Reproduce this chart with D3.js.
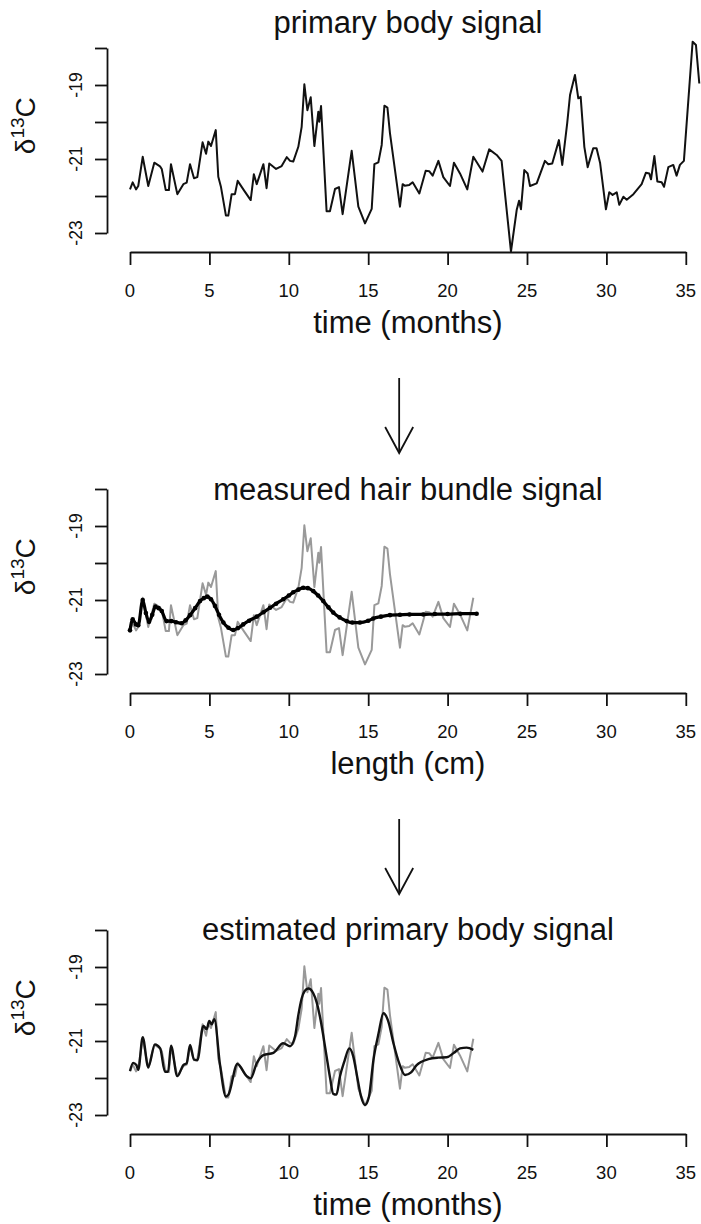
<!DOCTYPE html>
<html><head><meta charset="utf-8">
<script src="https://cdn.jsdelivr.net/npm/d3@7/dist/d3.min.js"></script>
<style>body{margin:0;background:#fff}svg{display:block}text{font-family:"Liberation Sans",Arial,sans-serif;fill:#111}</style>
</head><body>
<script>
// ---- data ----
const primaryTime = [0,0.17,0.38,0.52,0.8,1.15,1.53,1.89,2.0,2.25,2.45,2.58,2.98,3.36,3.57,3.78,4.03,4.24,4.57,4.79,4.93,5.1,5.4,5.56,5.73,6.04,6.19,6.4,6.61,6.78,7.2,7.6,7.8,7.98,8.4,8.6,8.77,9.2,9.55,9.87,10.08,10.28,10.6,10.81,10.98,11.17,11.38,11.61,11.86,11.92,12.03,12.38,12.59,12.91,13.16,13.39,13.96,14.38,14.8,15.22,15.39,15.64,15.85,16.02,16.21,16.37,17.0,17.17,17.3,17.59,17.8,18.22,18.62,18.84,19.06,19.42,19.73,20.15,20.4,20.78,21.24,21.62,22.2,22.62,23.09,23.4,23.99,24.35,24.5,24.62,24.83,25.04,25.19,25.61,26.13,26.34,26.59,27.01,27.22,27.53,27.71,28.02,28.23,28.38,28.61,28.82,29.17,29.38,29.6,29.97,30.18,30.39,30.65,30.81,31.07,31.28,31.7,32.22,32.49,32.7,32.81,33.02,33.21,33.48,33.63,33.9,34.21,34.42,34.63,34.88,35.43,35.64,35.85];
const primaryD13C = [-21.82,-21.63,-21.82,-21.73,-20.94,-21.73,-21.1,-21.2,-21.27,-21.84,-21.84,-21.14,-21.95,-21.68,-21.64,-21.14,-21.52,-21.49,-20.55,-20.86,-20.53,-20.65,-20.22,-21.48,-21.76,-22.53,-22.53,-21.95,-21.95,-21.59,-21.86,-22.11,-21.41,-21.68,-21.14,-21.79,-21.12,-21.27,-21.19,-20.95,-21.05,-21.07,-20.67,-20.13,-18.98,-19.68,-19.33,-20.65,-19.72,-19.99,-19.57,-22.41,-22.41,-21.81,-21.76,-22.49,-20.78,-22.29,-22.74,-22.35,-21.14,-21.09,-20.62,-19.56,-19.61,-20.3,-22.29,-21.68,-21.72,-21.7,-21.63,-21.93,-21.32,-21.33,-21.45,-21.05,-21.49,-21.73,-21.1,-21.39,-21.82,-20.94,-21.34,-20.74,-20.89,-21.05,-23.5,-22.38,-22.13,-22.36,-21.3,-21.39,-21.73,-21.66,-21.05,-21.14,-21.12,-20.49,-21.16,-20.04,-19.27,-18.73,-19.36,-19.32,-20.67,-21.22,-20.71,-20.71,-21.1,-22.36,-21.9,-21.97,-21.9,-22.24,-22.02,-22.1,-21.95,-21.68,-21.37,-21.39,-21.55,-20.92,-21.61,-21.63,-21.75,-21.22,-21.16,-21.45,-21.16,-21.05,-17.83,-17.92,-18.96];

const hairLength = [0,0.17,0.38,0.52,0.8,1.0,1.2,1.4,1.6,1.8,2.0,2.3,2.6,2.9,3.25,3.5,3.78,4.1,4.41,4.65,4.87,5.1,5.35,5.6,5.88,6.2,6.5,6.8,7.13,7.5,7.98,8.4,8.82,9.2,9.65,10.0,10.28,10.6,10.91,11.2,11.54,11.85,12.17,12.5,12.8,13.2,13.64,14.0,14.48,15.0,15.32,15.8,16.37,17.0,17.6,18.47,19.2,20.0,20.8,21.83];
const hairD13C = [-21.82,-21.52,-21.66,-21.68,-21.0,-21.35,-21.59,-21.4,-21.18,-21.22,-21.3,-21.57,-21.57,-21.6,-21.63,-21.55,-21.41,-21.22,-21.03,-20.95,-20.91,-20.98,-21.16,-21.4,-21.61,-21.75,-21.81,-21.76,-21.66,-21.56,-21.45,-21.33,-21.21,-21.1,-20.98,-20.88,-20.79,-20.72,-20.67,-20.68,-20.76,-20.88,-21.03,-21.2,-21.34,-21.47,-21.57,-21.61,-21.61,-21.56,-21.5,-21.45,-21.41,-21.4,-21.39,-21.39,-21.38,-21.38,-21.37,-21.37];

const estTime = [0,0.2,0.4,0.52,0.8,1.15,1.57,1.9,2.2,2.4,2.58,2.98,3.36,3.57,3.78,4.03,4.24,4.62,4.83,4.99,5.14,5.31,5.67,6.04,6.2,6.76,7.35,7.6,7.98,8.4,9.03,9.65,10.08,10.39,10.6,10.81,11.0,11.23,11.54,11.75,11.96,12.17,12.38,12.6,12.8,13.0,13.22,13.5,13.81,14.05,14.3,14.55,14.8,15.05,15.33,15.65,15.96,16.25,16.59,16.95,17.32,17.7,18.05,18.79,19.4,19.94,20.4,20.78,21.2,21.62];
const estD13C = [-21.81,-21.59,-21.65,-21.78,-20.9,-21.71,-21.09,-21.2,-21.83,-21.83,-21.13,-21.95,-21.65,-21.6,-21.11,-21.5,-21.52,-20.59,-20.68,-20.46,-20.55,-20.41,-21.65,-22.5,-22.45,-21.62,-21.95,-22.01,-21.6,-21.38,-21.32,-21.06,-21.14,-20.88,-20.3,-19.85,-19.65,-19.58,-19.71,-19.95,-20.34,-20.85,-21.42,-22.0,-22.43,-22.45,-21.96,-21.55,-21.2,-21.4,-21.95,-22.5,-22.73,-22.5,-21.51,-20.8,-20.25,-20.45,-21.06,-21.6,-21.92,-21.85,-21.65,-21.49,-21.45,-21.44,-21.32,-21.2,-21.18,-21.24];

const xTicks = [0,5,10,15,20,25,30,35];
const yTicks = [-23,-22,-21,-20,-19,-18];
const yTickLabels = [-23,-21,-19];
const panelTitles = ["primary body signal","measured hair bundle signal","estimated primary body signal"];
const xLabels = ["time (months)","length (cm)","time (months)"];
const measuredCutoff = 21.7;

// ---- drawing ----
const W = 701, H = 1224;
const svg = d3.select("body").append("svg").attr("width", W).attr("height", H);
const x = d3.scaleLinear().domain([0,35]).range([130, 685.8]);
const panelTops = [48, 489, 930];
const titleY = [33, 500, 940];

const primary = primaryTime.map((t,i)=>({t, v: primaryD13C[i]}));
const primaryShort = primary.filter(d => d.t <= measuredCutoff);
const hair = hairLength.map((t,i)=>({t, v: hairD13C[i]}));
const est = estTime.map((t,i)=>({t, v: estD13C[i]}));

panelTops.forEach((top, p) => {
  const y = d3.scaleLinear().domain([-23,-18]).range([top+185, top]);
  const g = svg.append("g");
  const axisY = top + 204;

  // title
  g.append("text").attr("x", x(17.5)).attr("y", titleY[p]).attr("text-anchor","middle")
    .attr("font-size", 31).text(panelTitles[p]);

  // y axis
  const ya = g.append("g").attr("transform","translate(107,0)")
    .call(d3.axisLeft(y).tickValues(yTicks).tickSize(12).tickSizeOuter(0).tickFormat(""));
  ya.selectAll("path,line").attr("stroke","#111").attr("stroke-width",1.8);
  yTickLabels.forEach(v => {
    g.append("text").attr("transform", `translate(82,${y(v)}) rotate(-90)`)
      .attr("text-anchor","middle").attr("font-size", 17.5).text(String(v));
  });
  // y label
  const yl = g.append("text").attr("transform", `translate(35,${y(-20.1)}) rotate(-90)`)
    .attr("text-anchor","middle").attr("font-size", 28);
  yl.append("tspan").text("δ");
  yl.append("tspan").attr("font-size", 19).attr("dy", -11).text("13");
  yl.append("tspan").attr("dy", 11).text("C");

  // x axis
  const xa = g.append("g").attr("transform", `translate(0,${axisY})`)
    .call(d3.axisBottom(x).tickValues(xTicks).tickSize(13).tickSizeOuter(0).tickFormat(""));
  xa.selectAll("path,line").attr("stroke","#111").attr("stroke-width",1.8);
  xTicks.forEach(t => {
    g.append("text").attr("x", x(t)).attr("y", axisY + 45).attr("text-anchor","middle")
      .attr("font-size", 18.5).text(String(t));
  });
  g.append("text").attr("x", x(17.5)).attr("y", axisY + 81).attr("text-anchor","middle")
    .attr("font-size", 31).text(xLabels[p]);

  const lineL = d3.line().x(d=>x(d.t)).y(d=>y(d.v));
  const lineS = d3.line().x(d=>x(d.t)).y(d=>y(d.v)).curve(d3.curveMonotoneX);

  if (p === 0) {
    g.append("path").datum(primary).attr("d", lineL).attr("fill","none")
      .attr("stroke","#111").attr("stroke-width",2).attr("stroke-linejoin","round");
  } else if (p === 1) {
    g.append("path").datum(primaryShort).attr("d", lineL).attr("fill","none")
      .attr("stroke","#999").attr("stroke-width",2).attr("stroke-linejoin","round");
    g.append("path").datum(hair).attr("d", lineS).attr("fill","none")
      .attr("stroke","#000").attr("stroke-width",3.2).attr("stroke-linejoin","round");
    g.selectAll("circle.h").data(hair).join("circle").attr("class","h")
      .attr("cx", d=>x(d.t)).attr("cy", d=>y(d.v)).attr("r", 2.3).attr("fill","#000");
  } else {
    g.append("path").datum(primaryShort).attr("d", lineL).attr("fill","none")
      .attr("stroke","#999").attr("stroke-width",2).attr("stroke-linejoin","round");
    g.append("path").datum(est).attr("d", lineS).attr("fill","none")
      .attr("stroke","#111").attr("stroke-width",2.4).attr("stroke-linejoin","round");
  }

  // arrow to next panel
  if (p < 2) {
    const ax = x(16.95), y0 = axisY + 126, y1 = axisY + 201;
    const a = svg.append("g").attr("stroke","#111").attr("stroke-width",1.8).attr("fill","none");
    a.append("line").attr("x1",ax).attr("x2",ax).attr("y1",y0).attr("y2",y1);
    a.append("path").attr("d", `M${ax-14},${y1-26} L${ax},${y1} L${ax+14},${y1-26}`);
  }
});
</script>
</body></html>
